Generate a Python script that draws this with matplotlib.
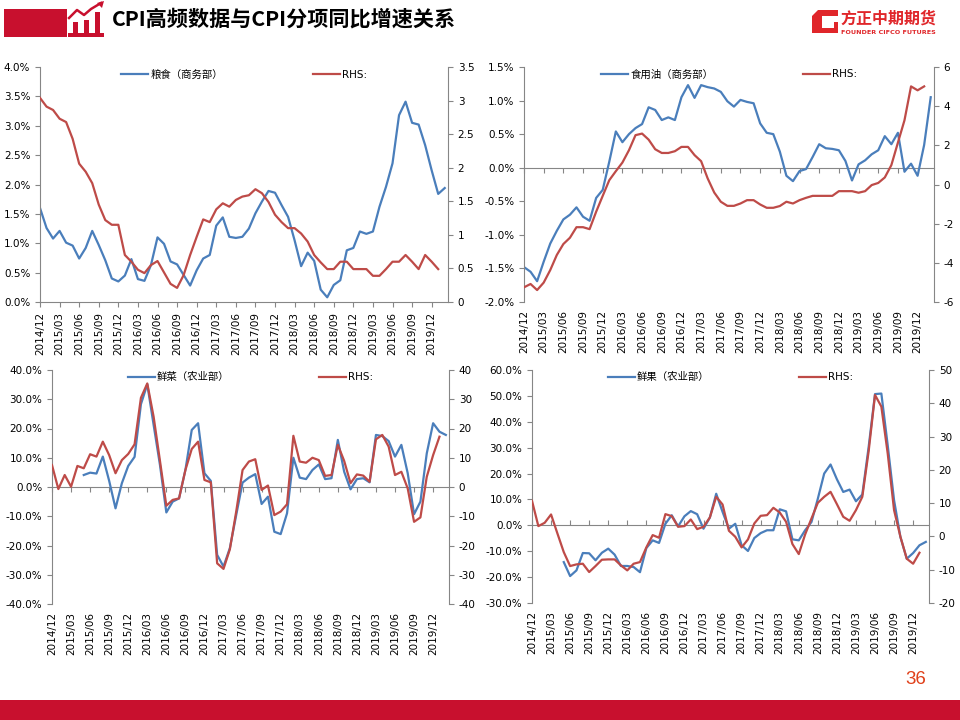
import numpy as np
import matplotlib
matplotlib.use("Agg")
import matplotlib.pyplot as plt
from matplotlib.patches import Rectangle, Polygon

plt.rcParams['font.family'] = ['DejaVu Sans', 'Noto Sans CJK SC']

# ---- data (monthly, 2014/12 .. 2020/02) ----
tick_labels = ['2014/12', '2015/03', '2015/06', '2015/09', '2015/12', '2016/03', '2016/06',
               '2016/09', '2016/12', '2017/03', '2017/06', '2017/09', '2017/12', '2018/03',
               '2018/06', '2018/09', '2018/12', '2019/03', '2019/06', '2019/09', '2019/12']

grain_mofcom = [1.60, 1.26, 1.08, 1.21, 1.01, 0.96, 0.74, 0.92, 1.21, 0.97, 0.71, 0.40, 0.35,
                0.45, 0.73, 0.39, 0.36, 0.63, 1.10, 0.99, 0.69, 0.64, 0.46, 0.28, 0.54, 0.74,
                0.80, 1.30, 1.44, 1.11, 1.09, 1.11, 1.25, 1.51, 1.71, 1.89, 1.86, 1.65, 1.45,
                1.05, 0.61, 0.84, 0.70, 0.21, 0.08, 0.29, 0.37, 0.88, 0.92, 1.20, 1.16, 1.20,
                1.62, 1.96, 2.36, 3.18, 3.41, 3.05, 3.02, 2.67, 2.24, 1.84, 1.94]
grain_cpi = [3.04, 2.91, 2.86, 2.73, 2.68, 2.43, 2.06, 1.94, 1.77, 1.45, 1.22, 1.15, 1.15,
             0.70, 0.60, 0.48, 0.43, 0.55, 0.61, 0.44, 0.27, 0.21, 0.40, 0.70, 0.97, 1.23,
             1.19, 1.38, 1.47, 1.42, 1.52, 1.57, 1.59, 1.68, 1.62, 1.49, 1.30, 1.19, 1.10,
             1.10, 1.02, 0.90, 0.70, 0.59, 0.49, 0.49, 0.60, 0.60, 0.49, 0.49, 0.49, 0.39,
             0.39, 0.49, 0.60, 0.60, 0.70, 0.60, 0.49, 0.70, 0.60, 0.49]

oil_mofcom = [-1.48, -1.55, -1.69, -1.40, -1.13, -0.94, -0.77, -0.70, -0.59, -0.73, -0.79,
              -0.45, -0.33, 0.09, 0.54, 0.38, 0.50, 0.59, 0.65, 0.90, 0.86, 0.71, 0.75, 0.71,
              1.05, 1.23, 1.04, 1.23, 1.20, 1.18, 1.13, 0.99, 0.91, 1.01, 0.98, 0.96, 0.66,
              0.52, 0.50, 0.24, -0.12, -0.20, -0.05, -0.02, 0.16, 0.35, 0.29, 0.28, 0.26,
              0.10, -0.19, 0.05, 0.11, 0.20, 0.26, 0.47, 0.35, 0.52, -0.06, 0.06, -0.12,
              0.34, 1.05]
oil_cpi = [-5.25, -5.08, -5.39, -5.01, -4.37, -3.60, -3.04, -2.72, -2.18, -2.18, -2.28, -1.39,
           -0.58, 0.22, 0.68, 1.12, 1.75, 2.52, 2.60, 2.29, 1.80, 1.61, 1.61, 1.70, 1.92, 1.92,
           1.50, 1.19, 0.31, -0.41, -0.88, -1.09, -1.09, -0.97, -0.80, -0.80, -1.02, -1.19,
           -1.19, -1.10, -0.88, -0.97, -0.80, -0.68, -0.58, -0.58, -0.58, -0.58, -0.34, -0.34,
           -0.34, -0.42, -0.34, -0.03, 0.08, 0.36, 0.99, 2.14, 3.28, 5.01, 4.81, 5.01]

veg_moa = [np.nan] * 5 + [4.1, 4.9, 4.6, 10.4, 2.1, -7.3, 1.3, 7.2, 10.3, 28.3, 35.1, 21.2,
                          7.5, -8.7, -5.0, -3.9, 5.8, 19.5, 21.8, 4.7, 2.1, -23.2, -27.2, -20.9,
                          -9.6, 1.5, 3.2, 4.4, -5.8, -3.3, -15.3, -16.1, -9.0, 10.0, 3.2, 2.7,
                          5.8, 7.7, 2.7, 3.0, 16.1, 5.2, -0.8, 2.7, 3.0, 1.6, 17.8, 17.4, 15.7,
                          10.4, 14.4, 4.7, -9.3, -5.0, 11.5, 21.8, 18.9, 17.8]
veg_cpi = [7.5, -0.7, 4.1, 0.1, 7.2, 6.4, 11.2, 10.4, 15.5, 10.9, 4.7, 9.2, 11.3, 14.6, 30.5,
           35.4, 24.0, 8.9, -6.4, -4.4, -3.9, 5.8, 13.0, 15.5, 2.4, 1.6, -26.1, -28.0, -21.3,
           -8.4, 5.8, 8.7, 9.5, -1.0, 0.5, -9.6, -8.4, -5.9, 17.5, 8.7, 8.3, 10.0, 9.2, 3.8,
           4.1, 14.4, 8.9, 1.3, 4.3, 3.9, 1.8, 16.3, 17.8, 13.8, 4.1, 5.2, -0.5, -11.9, -10.4,
           3.5, 10.9, 17.2]

fruit_moa = [np.nan] * 5 + [-14.2, -19.6, -17.4, -10.7, -10.8, -13.5, -10.6, -9.0, -11.3,
                            -15.7, -15.7, -16.1, -18.1, -8.8, -5.8, -6.8, 0.6, 3.9, -0.4, 3.5,
                            5.5, 4.3, -1.3, 3.0, 12.2, 5.2, -1.3, 0.6, -7.7, -9.9, -4.9, -3.0,
                            -1.9, -1.9, 6.2, 5.4, -5.4, -5.8, -1.9, 1.3, 10.3, 20.0, 23.5, 17.8,
                            12.9, 13.8, 9.3, 11.9, 30.3, 50.7, 50.9, 30.9, 9.7, -4.5, -12.9,
                            -10.7, -7.7, -6.4]
fruit_cpi = [10.7, 3.1, 4.1, 6.6, 0.9, -4.7, -8.9, -8.4, -8.2, -10.7, -8.9, -7.0, -6.9, -6.9,
             -8.7, -10.2, -8.2, -7.7, -3.3, 0.4, -0.4, 6.7, 6.1, 2.9, 3.1, 5.1, 2.2, 2.9, 5.7,
             11.9, 9.6, 1.7, -0.1, -3.3, -0.9, 3.9, 6.2, 6.4, 8.6, 7.2, 4.4, -2.3, -5.3, 0.6,
             5.4, 10.1, 11.9, 13.4, 9.7, 5.9, 4.7, 7.9, 11.9, 25.6, 42.5, 39.0, 24.9, 7.9,
             -0.1, -6.7, -8.2, -4.9]

BLUE = '#4A7EBB'
RED = '#BE4B48'
GRAY = '#868686'
BRAND = '#C8102E'

W, H = 960, 720
fig = plt.figure(figsize=(9.6, 7.2), dpi=100)


def box(x0, y0, x1, y1):
    return [x0 / W, 1 - y1 / H, (x1 - x0) / W, (y1 - y0) / H]


def panel(rect, left, right, lname, llim, lstep, rlim, rstep, lfmt):
    ax = fig.add_axes(box(*rect))
    ax2 = ax.twinx()
    x_l = np.arange(len(left))
    x_r = np.arange(len(right))
    ax.plot(x_l, left, color=BLUE, lw=1.6, label=lname)
    ax2.plot(x_r, right, color=RED, lw=1.6, label='RHS:')

    ax.set_xlim(0, 62.5)
    ax.set_ylim(*llim)
    ax.set_yticks(np.arange(llim[0], llim[1] + lstep / 2, lstep))
    ax.set_yticklabels([lfmt.format(v) for v in ax.get_yticks()])
    ax2.set_ylim(*rlim)
    ax2.set_yticks(np.arange(rlim[0], rlim[1] + rstep / 2, rstep))
    ax2.set_yticklabels(['{:g}'.format(v) for v in ax2.get_yticks()])

    ticks = np.arange(0, 61, 3)
    ax.set_xticks(ticks)
    ax.set_xticklabels(tick_labels, rotation=90)

    for a in (ax, ax2):
        for s in a.spines.values():
            s.set_visible(False)
            s.set_color(GRAY)
    ax.spines['left'].set_visible(True)
    ax2.spines['right'].set_visible(True)
    ax.tick_params(axis='y', colors=GRAY, labelcolor='black', labelsize=7.5, length=3.5)
    ax2.tick_params(axis='y', colors=GRAY, labelcolor='black', labelsize=7.5, length=3.5)

    zero = (0 - llim[0]) / (llim[1] - llim[0])
    if zero == 0:
        ax.spines['bottom'].set_visible(True)
        ax.tick_params(axis='x', colors=GRAY, labelcolor='black', labelsize=7.5, length=3.5)
    else:
        ax.tick_params(axis='x', length=0, labelsize=7.5, pad=6)
        sec = ax.secondary_xaxis(zero)
        sec.set_xticks(ticks)
        sec.set_xticklabels([])
        for s in sec.spines.values():
            s.set_color(GRAY)
        sec.tick_params(axis='x', colors=GRAY, length=3.5, direction='in')

    h1, l1 = ax.get_legend_handles_labels()
    h2, l2 = ax2.get_legend_handles_labels()
    ax2.legend(h1 + h2, l1 + l2, ncol=2, loc='upper center', bbox_to_anchor=(0.5, 1.03),
               frameon=False, fontsize=7.5, handlelength=2.6, handletextpad=0.2,
               columnspacing=8.6)
    return ax, ax2


panel((40, 67, 448, 302), grain_mofcom, grain_cpi, '粮食（商务部）',
      (0, 4), 0.5, (0, 3.5), 0.5, '{:.1f}%')
panel((524, 67, 934, 302), oil_mofcom, oil_cpi, '食用油（商务部）',
      (-2, 1.5), 0.5, (-6, 6), 2, '{:.1f}%')
panel((52, 370, 449, 604), veg_moa, veg_cpi, '鲜菜（农业部）',
      (-40, 40), 10, (-40, 40), 10, '{:.1f}%')
panel((532, 370, 929, 603), fruit_moa, fruit_cpi, '鲜果（农业部）',
      (-30, 60), 10, (-20, 50), 10, '{:.1f}%')

# ---- header ----
deco = fig.add_axes([0, 0, 1, 1], zorder=-1)
deco.set_xlim(0, W)
deco.set_ylim(H, 0)
deco.axis('off')
deco.add_patch(Rectangle((4, 9), 63, 28, color=BRAND, lw=0))
deco.add_patch(Rectangle((68, 33), 36, 4, color=BRAND, lw=0))
deco.add_patch(Rectangle((73, 22), 5, 11, color=BRAND, lw=0))
deco.add_patch(Rectangle((84, 20), 5, 13, color=BRAND, lw=0))
deco.add_patch(Rectangle((95, 12), 5, 21, color=BRAND, lw=0))
deco.plot([69, 77, 84, 91, 101], [18, 10, 15, 9, 3], color=BRAND, lw=1.8)
deco.add_patch(Polygon([[104, 1], [97, 3], [102, 8]], color=BRAND, lw=0))
fig.text(112 / W, 1 - 19 / H, 'CPI高频数据与CPI分项同比增速关系', fontsize=15.2,
         fontweight='bold', family=['Noto Sans CJK SC'], va='center', ha='left')

# logo
deco.add_patch(Polygon([[818, 10], [838, 10], [838, 16], [822, 16], [822, 28], [834, 28],
                        [834, 22], [838, 22], [838, 33], [812, 33], [812, 16]],
                       color='#E0262A', lw=0))
fig.text(840 / W, 1 - 19 / H, '方正中期期货', fontsize=11.5, fontweight='bold',
         color='#E0262A', family=['Noto Sans CJK SC'], va='center', ha='left')
fig.text(841 / W, 1 - 33 / H, 'FOUNDER CIFCO FUTURES', fontsize=4.6, fontweight='bold',
         color='#E0262A', va='center', ha='left')

# footer
deco.add_patch(Rectangle((0, 700), W, 20, color=BRAND, lw=0))
fig.text(916 / W, 1 - 680 / H, '36', fontsize=13.5, color='#E0401A',
         family=['Liberation Sans'], ha='center', va='center')

fig.savefig('out.png', dpi=100)
